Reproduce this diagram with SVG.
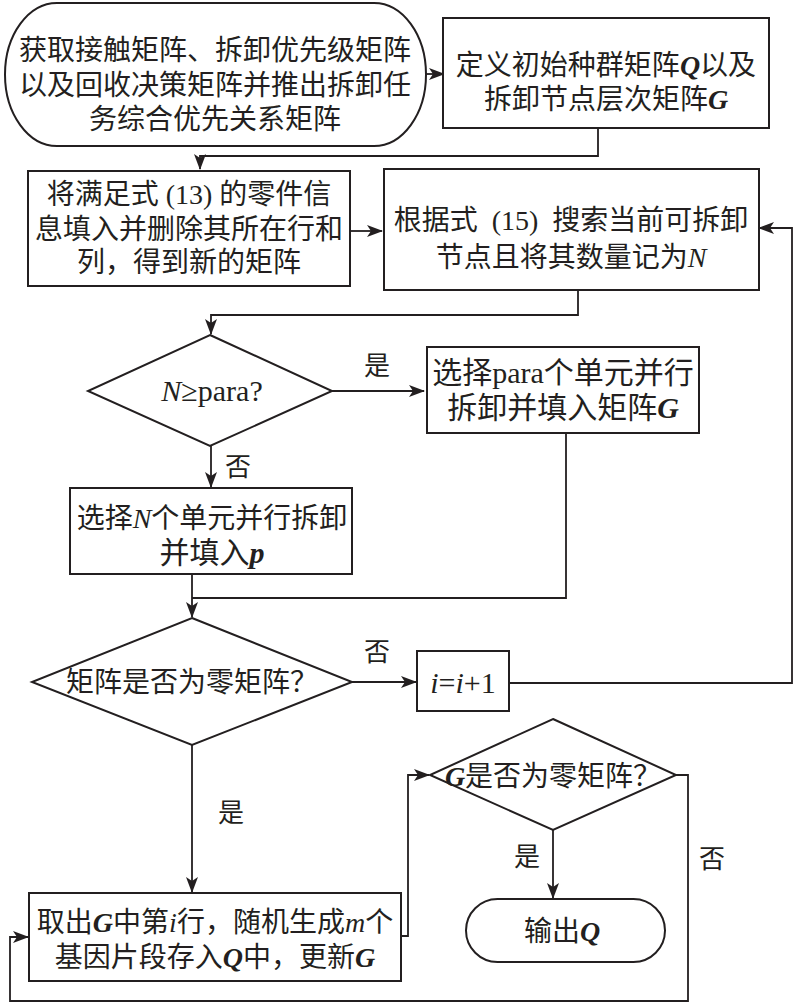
<svg xmlns="http://www.w3.org/2000/svg" width="800" height="1004" viewBox="0 0 800 1004">
<style>
.s{fill:#fff;stroke:#231f20;stroke-width:2}
.c{fill:none;stroke:#231f20;stroke-width:1.8}
text{font-family:"Liberation Serif","Noto Sans CJK SC",serif;font-size:28px;fill:#231f20;text-anchor:middle}
.b{font-size:30px}
.l{font-size:26px}
.i{font-style:italic}
.bi{font-style:italic;font-weight:bold}
</style>
<defs>
<marker id="a" markerWidth="16" markerHeight="12" refX="15" refY="6" orient="auto" markerUnits="userSpaceOnUse">
<path d="M0,0 L16,6 L0,12 L4,6 Z" fill="#231f20"/>
</marker>
</defs>
<rect width="800" height="1004" fill="#fff"/>
<g id="connectors">
<path class="c" d="M426,74 H444" marker-end="url(#a)"/>
<path class="c" d="M598,128 V156 H200 V169" marker-end="url(#a)"/>
<path class="c" d="M350,231 H382" marker-end="url(#a)"/>
<path class="c" d="M578,290 V315 H211 V334" marker-end="url(#a)"/>
<path class="c" d="M332,391 H424" marker-end="url(#a)"/>
<path class="c" d="M211,446 V487" marker-end="url(#a)"/>
<path class="c" d="M566,433 V598 H192"/>
<path class="c" d="M192,574 V617" marker-end="url(#a)"/>
<path class="c" d="M352,682 H416" marker-end="url(#a)"/>
<path class="c" d="M509,683 H792 V228 H759" marker-end="url(#a)"/>
<path class="c" d="M192,745 V892" marker-end="url(#a)"/>
<path class="c" d="M401,936 H408 V775 H429" marker-end="url(#a)"/>
<path class="c" d="M553,830 V898" marker-end="url(#a)"/>
<path class="c" d="M676,775 H688 V1001 H10 V937 H28" marker-end="url(#a)"/>
</g>
<g id="start">
<rect class="s" x="5" y="3" width="421" height="143" rx="52" ry="71.5"/>
<text x="215" y="60">获取接触矩阵、拆卸优先级矩阵</text>
<text x="215" y="95">以及回收决策矩阵并推出拆卸任</text>
<text x="215" y="129">务综合优先关系矩阵</text>
</g>
<g id="defineQG">
<rect class="s" x="443" y="18" width="326" height="110"/>
<text x="606" y="75">定义初始种群矩阵<tspan class="bi">Q</tspan>以及</text>
<text x="606" y="109">拆卸节点层次矩阵<tspan class="bi">G</tspan></text>
</g>
<g id="fill13">
<rect class="s" x="28" y="171" width="322" height="115"/>
<text x="189" y="204">将满足式 (13) 的零件信</text>
<text x="189" y="239">息填入并删除其所在行和</text>
<text x="189" y="272">列，得到新的矩阵</text>
</g>
<g id="search15">
<rect class="s" x="384" y="169" width="375" height="121"/>
<text x="571" y="230" xml:space="preserve">根据式  (15)  搜索当前可拆卸</text>
<text x="571" y="267">节点且将其数量记为<tspan class="i">N</tspan></text>
</g>
<g id="decision1">
<polygon class="s" points="210,335 332,391 210,446 88,391"/>
<text class="b" x="212" y="401"><tspan class="i">N</tspan>≥para?</text>
</g>
<g id="choosePara">
<rect class="s" x="427" y="347" width="272" height="86"/>
<text class="b" x="563" y="383">选择para个单元并行</text>
<text class="b" x="563" y="418">拆卸并填入矩阵<tspan class="bi">G</tspan></text>
</g>
<g id="chooseN">
<rect class="s" x="70" y="488" width="282" height="86"/>
<text x="212" y="528">选择<tspan class="i">N</tspan>个单元并行拆卸</text>
<text class="b" x="212" y="563">并填入<tspan class="bi">p</tspan></text>
</g>
<g id="decision2">
<polygon class="s" points="192,618 352,682 192,745 32,682"/>
<text x="192" y="692">矩阵是否为零矩阵？</text>
</g>
<g id="increment">
<rect class="s" x="417" y="651" width="92" height="60"/>
<text class="b" x="463" y="693"><tspan class="i">i</tspan>=<tspan class="i">i</tspan>+1</text>
</g>
<g id="takeRow">
<rect class="s" x="29" y="893" width="372" height="88"/>
<text x="215" y="932">取出<tspan class="bi">G</tspan>中第<tspan class="i">i</tspan>行，随机生成<tspan class="i">m</tspan>个</text>
<text x="215" y="967">基因片段存入<tspan class="bi">Q</tspan>中，更新<tspan class="bi">G</tspan></text>
</g>
<g id="decision3">
<polygon class="s" points="553,719 676,775 553,830 430,775"/>
<text x="553" y="786"><tspan class="bi">G</tspan>是否为零矩阵？</text>
</g>
<g id="output">
<rect class="s" x="466" y="899" width="199" height="63" rx="31.5" ry="31.5"/>
<text x="562" y="941">输出<tspan class="bi">Q</tspan></text>
</g>
<g id="labels">
<text class="l" x="377" y="375">是</text>
<text class="l" x="238" y="476">否</text>
<text class="l" x="377" y="661">否</text>
<text class="l" x="231" y="822">是</text>
<text class="l" x="527" y="866">是</text>
<text class="l" x="712" y="868">否</text>
</g>
</svg>
